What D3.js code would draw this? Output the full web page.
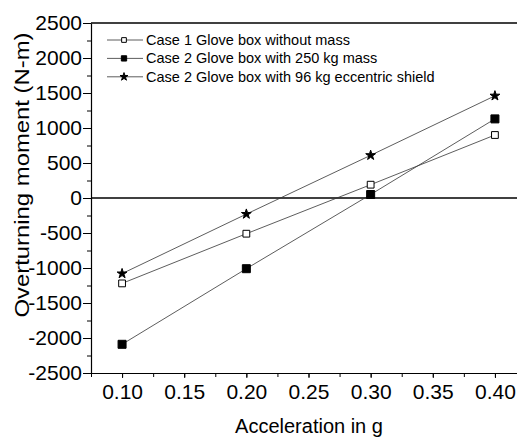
<!DOCTYPE html>
<html>
<head>
<meta charset="utf-8">
<script src="https://cdn.jsdelivr.net/npm/d3@7"></script>
<style>
  html, body { margin: 0; padding: 0; background: #fff; }
  svg { display: block; font-family: "Liberation Sans", Arial, sans-serif; }
</style>
</head>
<body>
<svg id="chart" width="517" height="437"></svg>
<script>
// Acceleration levels (g)
const accel = [0.10, 0.20, 0.30, 0.40];
// Overturning moment (N-m) for each case
const case1NoMass = [-1220, -510, 190, 900];
const case2Mass250 = [-2090, -1010, 50, 1130];
const case2Shield96 = [-1080, -230, 610, 1460];

const seriesNames = [
  "Case 1 Glove box without mass",
  "Case 2 Glove box with 250 kg mass",
  "Case 2 Glove box with 96 kg eccentric shield"
];
const xTickLabels = [0.10, 0.15, 0.20, 0.25, 0.30, 0.35, 0.40];
const yTickLabels = [-2500, -2000, -1500, -1000, -500, 0, 500, 1000, 1500, 2000, 2500];

const series = [
  { name: seriesNames[0], values: case1NoMass, symbol: d3.symbolSquare, size: 46, legendSize: 22, fill: "#fff" },
  { name: seriesNames[1], values: case2Mass250, symbol: d3.symbolSquare, size: 64, legendSize: 28, fill: "#000" },
  { name: seriesNames[2], values: case2Shield96, symbol: d3.symbolStar, size: 30, legendSize: 20, fill: "#000" }
];

const svg = d3.select("#chart");
const plot = { left: 91, right: 526, top: 23, bottom: 373 };
const fontFam = "'Liberation Sans', Arial, sans-serif";

const x = d3.scaleLinear().domain([0.075, 0.425]).range([plot.left, plot.right]);
const y = d3.scaleLinear().domain([-2500, 2500]).range([plot.bottom, plot.top]);

// frame: top edge (right edge lies outside the view)
svg.append("line")
  .attr("x1", plot.left).attr("x2", plot.right)
  .attr("y1", plot.top).attr("y2", plot.top)
  .attr("stroke", "#000").attr("stroke-width", 1.5);

// zero reference line
svg.append("line")
  .attr("x1", plot.left).attr("x2", plot.right)
  .attr("y1", y(0)).attr("y2", y(0))
  .attr("stroke", "#000").attr("stroke-width", 1.3);

// minor y ticks
const yMinor = d3.range(-2500, 2501, 250).filter(v => v % 500 !== 0);
svg.append("g")
  .attr("transform", `translate(${plot.left},0)`)
  .call(d3.axisLeft(y).tickValues(yMinor).tickSize(4).tickFormat(""))
  .call(g => g.select(".domain").remove());

// major y axis (plain hyphen for negatives)
svg.append("g")
  .attr("transform", `translate(${plot.left},0)`)
  .call(d3.axisLeft(y).tickValues(yTickLabels).tickSize(8).tickPadding(1).tickSizeOuter(0).tickFormat(d => String(d)))
  .call(g => g.select(".domain").attr("stroke-width", 1.2))
  .call(g => g.selectAll("text").attr("font-size", 21).attr("fill", "#000").attr("font-family", fontFam));

// x axis: ticks every 0.025, labels every 0.05
const xMinor = d3.range(0, 15).map(i => +(0.075 + i * 0.025).toFixed(3));
svg.append("g")
  .attr("transform", `translate(0,${plot.bottom})`)
  .call(d3.axisBottom(x).tickValues(xMinor).tickSize(4).tickSizeOuter(0).tickFormat(""))
  .call(g => g.select(".domain").attr("stroke-width", 1.2));
svg.append("g")
  .attr("transform", `translate(0,${plot.bottom})`)
  .call(d3.axisBottom(x).tickValues(xTickLabels).tickSize(5).tickPadding(6).tickFormat(d3.format(".2f")))
  .call(g => g.select(".domain").remove())
  .call(g => g.selectAll("text").attr("font-size", 21).attr("fill", "#000").attr("font-family", fontFam));

// axis titles
svg.append("text")
  .attr("x", 309).attr("y", 433)
  .attr("text-anchor", "middle")
  .attr("font-size", 20)
  .text("Acceleration in g");

svg.append("text")
  .attr("transform", "translate(29,175) rotate(-90)")
  .attr("text-anchor", "middle")
  .attr("font-size", 20)
  .attr("textLength", 285)
  .attr("lengthAdjust", "spacingAndGlyphs")
  .text("Overturning moment (N-m)");

// series lines and markers
const line = d3.line().x((d, i) => x(accel[i])).y(d => y(d));
series.forEach(s => {
  svg.append("path")
    .attr("d", line(s.values))
    .attr("fill", "none")
    .attr("stroke", "#333")
    .attr("stroke-width", 0.8);
  svg.selectAll(null)
    .data(s.values)
    .join("path")
    .attr("transform", (d, i) => `translate(${x(accel[i])},${y(d)})`)
    .attr("d", d3.symbol(s.symbol, s.size)())
    .attr("fill", s.fill)
    .attr("stroke", "#000")
    .attr("stroke-width", 1);
});

// legend
const legend = svg.append("g");
series.forEach((s, i) => {
  const cy = 40 + i * 18.4;
  legend.append("line")
    .attr("x1", 107).attr("x2", 143).attr("y1", cy).attr("y2", cy)
    .attr("stroke", "#333").attr("stroke-width", 0.8);
  legend.append("path")
    .attr("transform", `translate(124,${cy})`)
    .attr("d", d3.symbol(s.symbol, s.legendSize)())
    .attr("fill", s.fill)
    .attr("stroke", "#000")
    .attr("stroke-width", 1);
  legend.append("text")
    .attr("x", 146).attr("y", cy + 5)
    .attr("font-size", 14.5)
    .text(s.name);
});
</script>
</body>
</html>
